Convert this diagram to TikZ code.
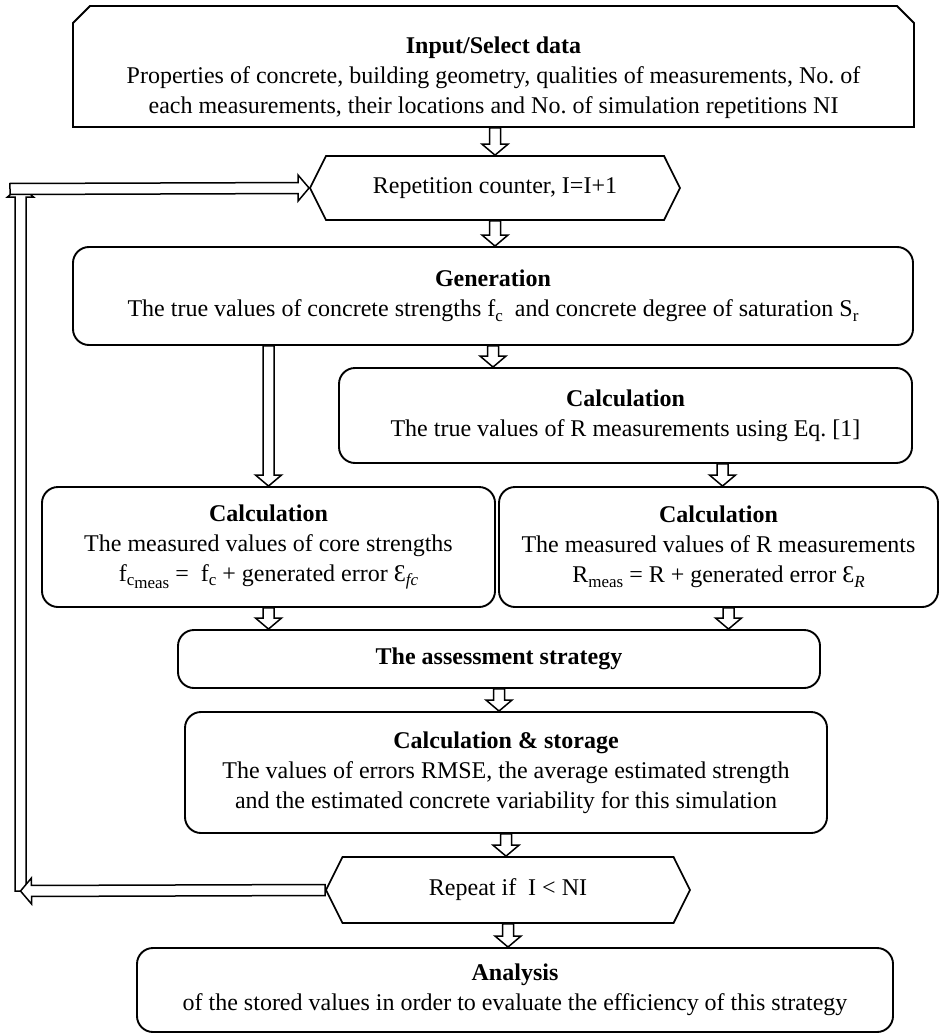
\documentclass[tikz,border=0pt]{standalone}
\usepackage{fontspec}
\setmainfont{Liberation Serif}
\usetikzlibrary{shapes.misc,shapes.symbols,calc}
\frenchspacing
\newcommand{\lsub}[1]{\raisebox{-0.4ex}{\fontsize{17}{17}\selectfont #1}}
\tikzstyle{every node}=[thick]
\tikzstyle{box}=[draw,line width=1.9pt,rounded corners=16pt,align=center,inner sep=0pt]
\tikzstyle{topbox}=[draw,line width=1.9pt,chamfered rectangle,chamfered rectangle corners={north west,north east},chamfered rectangle xsep=14pt,align=center,inner sep=0pt]
\tikzstyle{hexa}=[draw,line width=1.7pt,signal,signal to=west and east,signal pointer angle=127,align=center,inner sep=0pt]
% hollow block arrow from start to target
\tikzstyle{blk}=[draw,fill=white,line width=1.5pt,to path={
  let \p1=(\tikztostart), \p2=(\tikztotarget),
      \n1={atan2(\y2-\y1,\x2-\x1)}, \n2={veclen(\x2-\x1,\y2-\y1)} in
  ([shift={(\p1)},rotate=\n1]0pt,5.5pt) -- ([shift={(\p1)},rotate=\n1]\n2-11pt,5.5pt)
  -- ([shift={(\p1)},rotate=\n1]\n2-11pt,13pt) -- (\p2)
  -- ([shift={(\p1)},rotate=\n1]\n2-11pt,-13pt) -- ([shift={(\p1)},rotate=\n1]\n2-11pt,-5.5pt)
  -- ([shift={(\p1)},rotate=\n1]0pt,-5.5pt) -- cycle}]

\begin{document}
\begin{tikzpicture}[x=1pt,y=-1pt,font=\fontsize{24}{30}\selectfont]
\useasboundingbox (0,0) rectangle (942,1035);
\node[topbox,minimum width=841pt,minimum height=121pt] (inp) at (493.5,66.5)
  {\rule{0pt}{40pt}\textbf{Input/Select data}\\Properties of concrete, building geometry, qualities of measurements, No. of\\each measurements, their locations and No. of simulation repetitions NI};
\node[hexa,minimum width=370pt,minimum height=64pt] (rep) at (495,188) {Repetition counter, I=I+1};
\node[box,minimum width=840pt,minimum height=98pt] (gen) at (493,296)
  {\textbf{Generation}\\The true values of concrete strengths f\lsub{c}\ \ and concrete degree of saturation S\lsub{r}};
\node[box,minimum width=573pt,minimum height=95pt] (calc_R) at (625.5,415.5)
  {\textbf{Calculation}\\The true values of R measurements using Eq. [1]};
\node[box,minimum width=453pt,minimum height=120pt] (calc_fc) at (268.5,547)
  {\textbf{Calculation}\\The measured values of core strengths\\f\lsub{c\lsub{meas}} =\ \ f\lsub{c} + generated error Ɛ\lsub{\textit{fc}}};
\node[box,minimum width=439pt,minimum height=120pt] (calc_Rm) at (718.5,547)
  {\textbf{Calculation}\\The measured values of R measurements\\R\lsub{meas} = R + generated error Ɛ\lsub{\textit{R}}};
\node[box,minimum width=642pt,minimum height=58pt] (strat) at (499,659) {\textbf{The assessment strategy}};
\node[box,minimum width=642pt,minimum height=121pt] (store) at (506,772.5)
  {\textbf{Calculation \& storage}\\The values of errors RMSE, the average estimated strength\\and the estimated concrete variability for this simulation};
\node[hexa,minimum width=364pt,minimum height=66pt] (chk) at (508,890) {Repeat if\ \ I < NI};
\node[box,minimum width=756pt,minimum height=84pt] (ana) at (515,990)
  {\textbf{Analysis}\\of the stored values in order to evaluate the efficiency of this strategy};
\coordinate (lp_b) at (20.5,891);
\coordinate (lp_t) at (20.5,186);
\coordinate (lp_s) at (10,189);
% main flow
\path (rep.north |- inp.south) edge[blk] (rep.north)
      (rep.south) edge[blk] (rep.south |- gen.north)
      (gen.south) edge[blk] (gen.south |- calc_R.north)
      (calc_fc.north |- gen.south) edge[blk] (calc_fc.north)
      ([xshift=4pt]calc_Rm.north |- calc_R.south) edge[blk] ([xshift=4pt]calc_Rm.north)
      (calc_fc.south) edge[blk] (calc_fc.south |- strat.north)
      ([xshift=10pt]calc_Rm.south) edge[blk] ([xshift=10pt]calc_Rm.south |- strat.north)
      (strat.south) edge[blk] (strat.south |- store.north)
      (store.south) edge[blk] (store.south |- chk.north)
      (chk.south) edge[blk] (chk.south |- ana.north);
% loop back
\path (lp_b) edge[blk] (lp_t)
      (chk.west) edge[blk] (lp_b)
      (lp_s) edge[blk] (rep.west);
\end{tikzpicture}
\end{document}
